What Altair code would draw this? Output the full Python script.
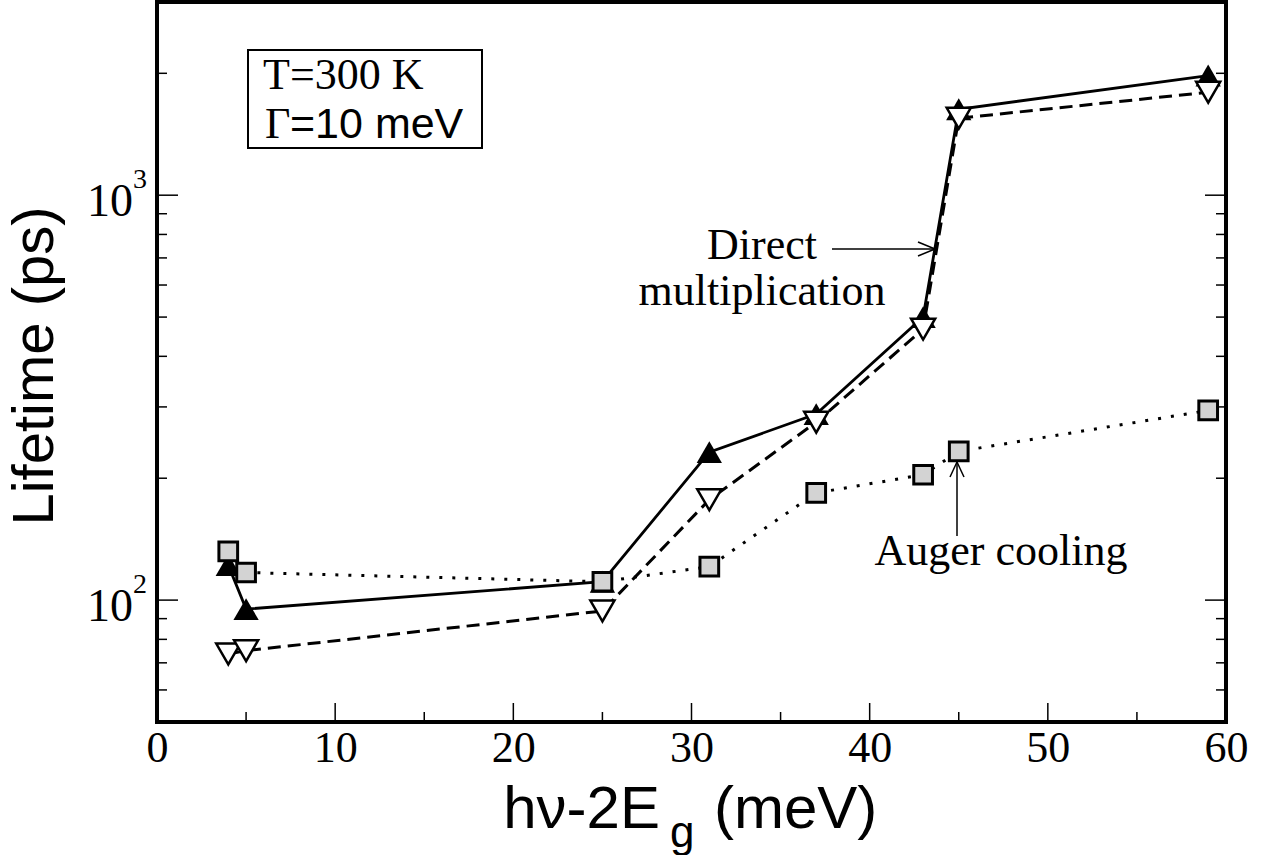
import altair as alt
import pandas as pd

# ---- data ----
energy = [4, 5, 25, 31, 37, 43, 45, 59]
direct_up = [122, 95, 111, 232, 288, 500, 1630, 1975]
direct_down = [73.6, 75, 94, 177, 275, 467, 1549, 1796]
auger = [132, 117, 111, 121, 184, 204, 233, 294]

x_labels = [0, 10, 20, 30, 40, 50, 60]
y_labels = [100, 1000]
y_label_base = ["10", "10"]
y_label_exp = ["2", "3"]
x_ticks_major = [10, 20, 30, 40, 50]
x_ticks_minor = [5, 15, 25, 35, 45, 55]
y_ticks_major = [100, 1000]
y_ticks_minor = [60, 70, 80, 90, 200, 300, 400, 500, 600, 700, 800, 900, 2000]

W, H = 1069, 720
SERIF = "Liberation Serif"
SANS = "Liberation Sans"

xs = alt.Scale(domain=[0, 60], nice=False, zero=False)
ys = alt.Scale(type="log", domain=[50, 3000], nice=False)

df = pd.DataFrame({"e": energy, "up": direct_up, "down": direct_down, "auger": auger})
one = pd.DataFrame({"a": [0]})
ylab = pd.DataFrame({"v": y_labels, "base": y_label_base, "exp": y_label_exp})

xaxis = alt.Axis(values=x_labels, title=None, ticks=False, domain=False, grid=False,
                 labelFont=SERIF, labelFontSize=44, labelPadding=4, labelFlush=False,
                 labelColor="black", labelOverlap=False)
yaxis = alt.Axis(values=y_labels, title=None, ticks=False, domain=False, grid=False, labels=False)


def X(f):
    return alt.X(f, scale=xs, axis=xaxis)


def Y(f):
    return alt.Y(f, scale=ys, axis=yaxis)


layers = []

# series 1: solid line, filled up triangles
layers.append(alt.Chart(df).mark_line(color="black", strokeWidth=2.8).encode(x=X("e:Q"), y=Y("up:Q")))
layers.append(alt.Chart(df).mark_point(shape="triangle-up", filled=True, color="black", size=640, opacity=1).encode(
    x=X("e:Q"), y=Y("up:Q")))

# series 2: dashed line, open down triangles
layers.append(alt.Chart(df).mark_line(color="black", strokeWidth=3, strokeDash=[13, 7]).encode(
    x=X("e:Q"), y=Y("down:Q")))
layers.append(alt.Chart(df).mark_point(shape="triangle-down", filled=True, fill="white", stroke="black",
                                       strokeWidth=2.5, size=580, opacity=1).encode(
    x=X("e:Q"), y=Y("down:Q")))

# series 3: dotted line, grey squares
layers.append(alt.Chart(df).mark_line(color="black", strokeWidth=3, strokeDash=[3, 10]).encode(
    x=X("e:Q"), y=Y("auger:Q")))
layers.append(alt.Chart(df).mark_point(shape="square", filled=True, fill="#d3d3d3", stroke="black",
                                       strokeWidth=3, size=350, opacity=1).encode(
    x=X("e:Q"), y=Y("auger:Q")))

# inward ticks
for vals, ln in ((y_ticks_major, 21), (y_ticks_minor, 10)):
    d = pd.DataFrame({"v": vals})
    layers.append(alt.Chart(d).mark_rule(color="black", strokeWidth=1.5).encode(
        y=Y("v:Q"), x=alt.value(0), x2=alt.value(ln)))
    layers.append(alt.Chart(d).mark_rule(color="black", strokeWidth=1.5).encode(
        y=Y("v:Q"), x=alt.value(W - ln), x2=alt.value(W)))
for vals, ln in ((x_ticks_major, 19), (x_ticks_minor, 10)):
    d = pd.DataFrame({"v": vals})
    layers.append(alt.Chart(d).mark_rule(color="black", strokeWidth=1.5).encode(
        x=X("v:Q"), y=alt.value(H), y2=alt.value(H - ln)))

# y tick labels 10^2, 10^3
layers.append(alt.Chart(ylab).mark_text(font=SERIF, fontSize=46, align="right", baseline="middle",
                                        dy=7, color="black").encode(
    y=Y("v:Q"), x=alt.value(-24), text="base:N"))
layers.append(alt.Chart(ylab).mark_text(font=SERIF, fontSize=28, align="left", baseline="middle",
                                        dy=-15, color="black").encode(
    y=Y("v:Q"), x=alt.value(-24), text="exp:N"))

# legend-like box
layers.append(alt.Chart(one).mark_rect(fill="white", stroke="black", strokeWidth=2).encode(
    x=alt.value(91), x2=alt.value(325), y=alt.value(48), y2=alt.value(146)))


def txt(t, x, y, font, size, align="left", angle=0):
    return alt.Chart(one).mark_text(text=t, font=font, fontSize=size, align=align,
                                    baseline="alphabetic", color="black", angle=angle).encode(
        x=alt.value(x), y=alt.value(y))


def seg(x1, y1, x2, y2, w=1.5):
    return alt.Chart(one).mark_rule(color="black", strokeWidth=w).encode(
        x=alt.value(x1), y=alt.value(y1), x2=alt.value(x2), y2=alt.value(y2))


layers.append(txt("T=300 K", 106, 87, SERIF, 44))
layers.append(txt("\u0393", 108, 136, SERIF, 44))
layers.append(txt("=10 meV", 133, 136, SANS, 43))

layers.append(txt("Direct", 605, 257, SERIF, 44, align="center"))
layers.append(txt("multiplication", 605, 303, SERIF, 44, align="center"))
layers.append(seg(675, 247, 778, 247))
layers.append(seg(778, 247, 761, 240))
layers.append(seg(778, 247, 761, 254))

layers.append(txt("Auger cooling", 844, 563, SERIF, 44, align="center"))
layers.append(seg(800, 534, 800, 460))
layers.append(seg(800, 460, 793, 475))
layers.append(seg(800, 460, 807, 475))

# axis titles
layers.append(txt("h\u03bd-2E", 503, 826, SANS, 60, align="right"))
layers.append(txt("g", 513, 845, SANS, 44))
layers.append(txt("(meV)", 557, 826, SANS, 60))
layers.append(txt("Lifetime (ps)", -104, 364, SANS, 58, align="center", angle=270))

chart = alt.layer(*layers).properties(
    width=W, height=H,
    autosize=alt.AutoSizeParams(type="none"),
    padding={"left": 157, "top": 2, "right": 41, "bottom": 133},
    background="white",
).configure_view(stroke="black", strokeWidth=4)

chart.save("out.html", embed_options={"renderer": "svg", "actions": False})
